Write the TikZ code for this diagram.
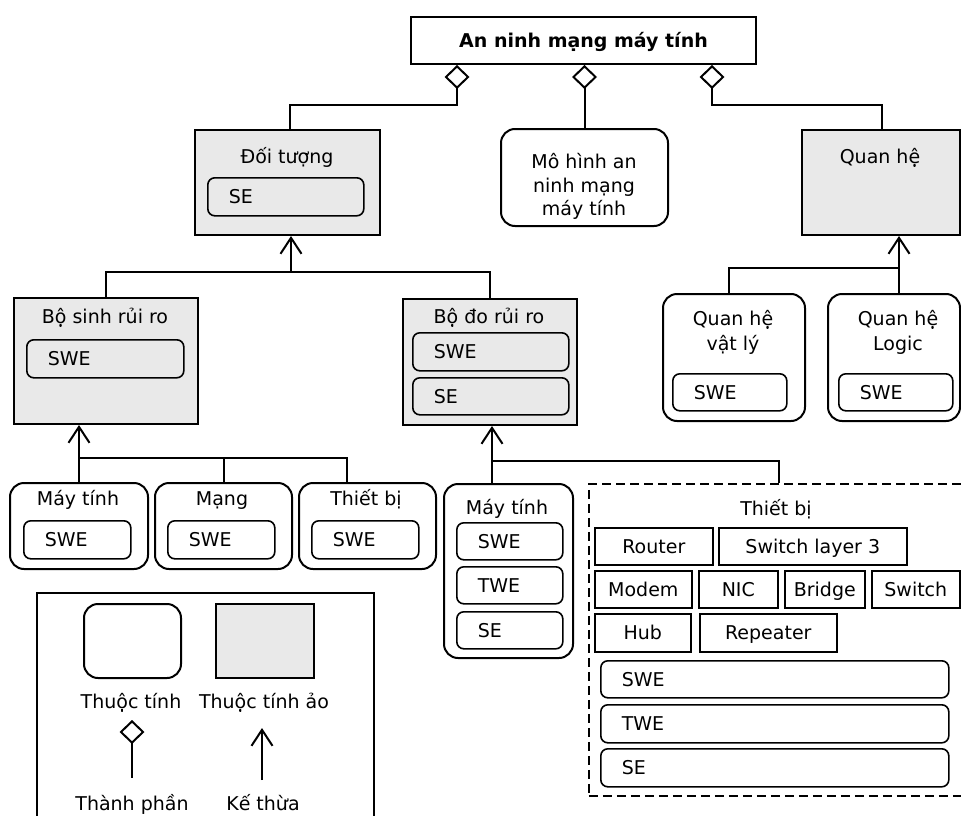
\documentclass[tikz,border=0pt]{standalone}
\usepackage{fontspec}
\setmainfont{DejaVu Sans}
\usetikzlibrary{arrows.meta,calc}
\definecolor{boxgray}{RGB}{233,233,233}

% a plain shape given by its corners: name, style, left, top, right, bottom
\newcommand\place[6]{%
  \node[#2, anchor=north west, minimum width={(#5)-(#3)}, minimum height={(#6)-(#4)}] (#1) at (#3,#4) {};}
% a rounded field with left-aligned text: name, style, left, top, right, bottom, text
\newcommand\fld[7]{%
  \pgfmathsetmacro\fldw{#5-#3-42}%
  \node[#2, anchor=north west, minimum width={(#5)-(#3)}, minimum height={(#6)-(#4)},
        text width=\fldw pt, align=left, inner xsep=21pt] (#1) at (#3,#4) {#7};}
% a square box with centred text: name, left, top, right, bottom, text
\newcommand\devbox[6]{%
  \node[dev, anchor=north west, minimum width={(#4)-(#2)}, minimum height={(#5)-(#3)}] (#1) at (#2,#3) {#6};}

\begin{document}
\begin{tikzpicture}[x=1pt,y=-1pt,
  every node/.style={font=\fontsize{19}{23}\selectfont, inner sep=0pt, text height=13.9pt, text depth=0pt},
  vbox/.style={draw, fill=boxgray, line width=2pt},
  attr/.style={draw, line width=2pt, rounded corners=14pt},
  field/.style={draw, line width=1.6pt, rounded corners=7pt},
  dev/.style={draw, line width=1.6pt},
  group/.style={draw, line width=1.5pt, dash pattern=on 9pt off 5pt},
  frame/.style={draw, line width=2pt},
  lbl/.style={anchor=base, text height=, text depth=},
  link/.style={line width=2pt},
  inherit/.style={line width=2pt, -{Straight Barb[length=16pt,width=21pt]}},
  compose/.style={line width=2pt, {Diamond[open,length=24pt,width=25pt]}-},
]
\useasboundingbox (0,0) rectangle (961,816);
\clip (0,0) rectangle (961,816);

% root
\node[frame, anchor=north west, minimum width=345, minimum height=47, font=\fontsize{19}{23}\selectfont\bfseries]
  (top) at (410,16) {An ninh mạng máy tính};

% second level
\place{doituong}{vbox}{194}{129}{379}{234}
\node[lbl] (t-doituong) at (287,163) {Đối tượng};
\fld{doituong-se}{field}{207}{177}{363}{215}{SE}

\place{mohinh}{attr}{500}{128}{667}{225}
\node[lbl] (t-mohinh1) at (584,168) {Mô hình an};
\node[lbl] (t-mohinh2) at (584,192) {ninh mạng};
\node[lbl] (t-mohinh3) at (584,215) {máy tính};

\place{quanhe}{vbox}{801}{129}{959}{234}
\node[lbl] (t-quanhe) at (880,163) {Quan hệ};

% relations
\place{vatly}{attr}{662}{293}{804}{420}
\node[lbl] (t-vatly1) at (733,325) {Quan hệ};
\node[lbl] (t-vatly2) at (733,350) {vật lý};
\fld{vatly-swe}{field}{672}{373}{786}{410}{SWE}

\place{logic}{attr}{827}{293}{959}{420}
\node[lbl] (t-logic1) at (898,325) {Quan hệ};
\node[lbl] (t-logic2) at (898,350) {Logic};
\fld{logic-swe}{field}{838}{373}{952}{410}{SWE}

% risk generator / risk meter
\place{bosinh}{vbox}{13}{297}{197}{423}
\node[lbl] (t-bosinh) at (105,323) {Bộ sinh rủi ro};
\fld{bosinh-swe}{field}{26}{339}{183}{377}{SWE}

\place{bodo}{vbox}{402}{298}{576}{424}
\node[lbl] (t-bodo) at (489,323) {Bộ đo rủi ro};
\fld{bodo-swe}{field}{412}{332}{568}{370}{SWE}
\fld{bodo-se}{field}{412}{377}{568}{414}{SE}

% generators
\place{mt1}{attr}{9}{482}{147}{568}
\node[lbl] (t-mt1) at (78,505) {Máy tính};
\fld{mt1-swe}{field}{23}{520}{130}{558}{SWE}

\place{mang}{attr}{154}{482}{291}{568}
\node[lbl] (t-mang) at (222,505) {Mạng};
\fld{mang-swe}{field}{167}{520}{274}{558}{SWE}

\place{tb1}{attr}{298}{482}{435}{568}
\node[lbl] (t-tb1) at (366,505) {Thiết bị};
\fld{tb1-swe}{field}{311}{520}{418}{558}{SWE}

% meters
\place{mt2}{attr}{443}{483}{572}{657}
\node[lbl] (t-mt2) at (507,514) {Máy tính};
\fld{mt2-swe}{field}{456}{522}{562}{559}{SWE}
\fld{mt2-twe}{field}{456}{566}{562}{603}{TWE}
\fld{mt2-se}{field}{456}{611}{562}{648}{SE}

\place{devgroup}{group}{588}{483}{968}{795}
\node[lbl] (t-devgroup) at (776,515) {Thiết bị};
\devbox{router}{594}{527}{712}{564}{Router}
\devbox{l3switch}{718}{527}{906}{564}{Switch layer 3}
\devbox{modem}{594}{570}{691}{607}{Modem}
\devbox{nic}{698}{570}{777}{607}{NIC}
\devbox{bridge}{784}{570}{864}{607}{Bridge}
\devbox{switch}{871}{570}{959}{607}{Switch}
\devbox{hub}{594}{613}{690}{651}{Hub}
\devbox{repeater}{699}{613}{836}{651}{Repeater}
\fld{dev-swe}{field}{600}{660}{948}{697}{SWE}
\fld{dev-twe}{field}{600}{704}{948}{742}{TWE}
\fld{dev-se}{field}{600}{748}{948}{786}{SE}

% legend
\place{legend}{frame}{36}{592}{373}{830}
\place{lg-attr}{attr}{83}{603}{180}{677}
\place{lg-vattr}{vbox}{215}{603}{313}{677}
\node[lbl] (t-lg-attr) at (131,708) {Thuộc tính};
\node[lbl] (t-lg-vattr) at (264,708) {Thuộc tính ảo};
\coordinate (lgd1) at (132,720);
\coordinate (lgd2) at (132,778);
\coordinate (lgi1) at (262,728);
\coordinate (lgi2) at (262,780);
\draw[compose] (lgd1) -- (lgd2);
\draw[inherit] (lgi2) -- (lgi1);
\node[lbl] (t-lg-comp) at (132,810) {Thành phần};
\node[lbl] (t-lg-inh) at (263,810) {Kế thừa};

% composition links from the root
\coordinate (j1) at (290,105);
\coordinate (j2) at (882,105);
\draw[compose] ($(top.south west)+(47,0)$) |- (j1) -- (j1 |- doituong.north);
\draw[compose] (top.south -| mohinh.north) -- (mohinh.north);
\draw[compose] ($(top.south west)+(302,0)$) |- (j2) -- (j2 |- quanhe.north);

% inheritance: objects
\coordinate (j3) at (291,272);
\draw[link] (bosinh.north) |- (j3) -| (bodo.north);
\draw[inherit] (j3) -- (j3 |- doituong.south);

% inheritance: relations
\coordinate (j6) at ($(logic.north west)+(72,0)$);
\draw[inherit] (j6) -- (j6 |- quanhe.south);
\draw[link] ($(vatly.north west)+(67,0)$) |- (j6 |- 0,268);

% inheritance: risk generators
\coordinate (j4) at (mt1.north |- 0,458);
\draw[inherit] (mt1.north) -- (mt1.north |- bosinh.south);
\draw[link] (j4) -| (mang.north);
\draw[link] (j4) -| ($(tb1.north west)+(49,0)$);

% inheritance: risk meters
\coordinate (j5) at ($(mt2.north west)+(49,0)$);
\draw[inherit] (j5) -- (j5 |- bodo.south);
\draw[link] (j5 |- 0,461) -| (devgroup.north);
\end{tikzpicture}
\end{document}
